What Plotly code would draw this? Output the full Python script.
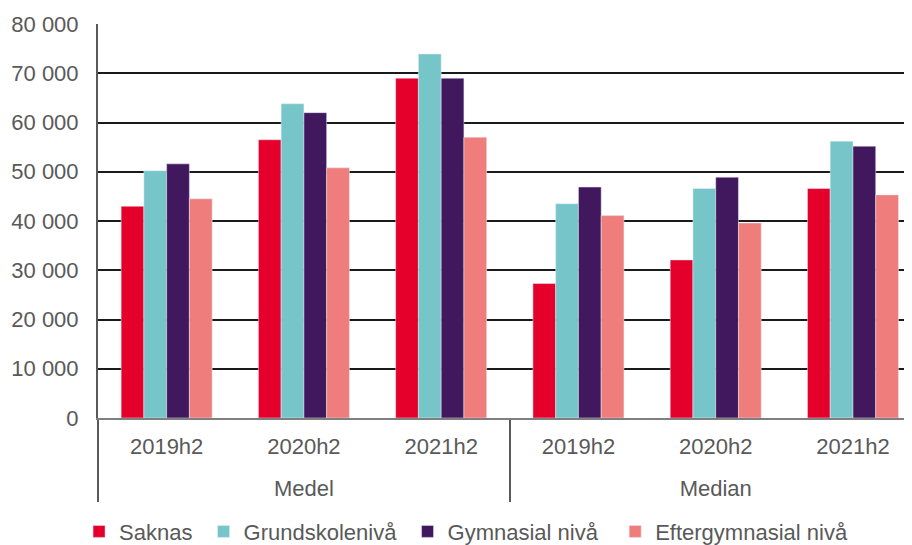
import plotly.graph_objects as go

# x-axis: two levels
measures = ["Medel"] * 3 + ["Median"] * 3
periods = ["2019h2", "2020h2", "2021h2"] * 2

saknas = [43000, 56500, 69000, 27300, 32100, 46600]
grundskola = [50200, 63800, 73900, 43500, 46600, 56200]
gymnasial = [51600, 62000, 69000, 46900, 48900, 55200]
eftergymnasial = [44500, 50800, 57000, 41100, 39600, 45300]

series = [
    ("Saknas", saknas, "#E4002B", 1),
    ("Grundskolenivå", grundskola, "#76C5C8", 1),
    ("Gymnasial nivå", gymnasial, "#41185E", 2),
    ("Eftergymnasial nivå", eftergymnasial, "#EF7D7C", 0),
]

# labels drawn at 22px inside a slightly smaller base font, so the blank line
# before the outer level is a bit shorter
big = "<span style='font-size:22px'>{}</span>"
outer = ["<br>" + big.format(m) for m in measures]
inner = [big.format(p) for p in periods]

fig = go.Figure()
for name, vals, color, pad in series:
    fig.add_trace(go.Bar(
        x=[outer, inner],
        y=vals,
        name=name + "\u00a0" * pad,
        marker=dict(color=color),
    ))

# page body has an 8px margin, so the figure is 8px smaller than the window
fig.update_layout(
    width=904,
    height=537,
    margin=dict(l=90, r=0, t=16, b=126.5),
    paper_bgcolor="white",
    plot_bgcolor="white",
    barmode="group",
    bargap=0.337,
    bargroupgap=0,
    separators=", ",
    font=dict(family="Liberation Sans, Arial, sans-serif", size=22, color="#595959"),
    showlegend=True,
    legend=dict(
        orientation="h",
        xref="container", x=0.0786, xanchor="left",
        yref="container", y=0.025, yanchor="middle",
        font=dict(size=22, color="#595959"),
        traceorder="normal",
    ),
    xaxis=dict(
        type="multicategory",
        range=[-0.5, 5.43],
        automargin=False,
        showline=True,
        linecolor="#7F7F7F",
        linewidth=2,
        ticklabelstandoff=10,
        showdividers=True,
        dividercolor="#595959",
        dividerwidth=2,
        tickfont=dict(size=19.6, color="#595959"),
    ),
    yaxis=dict(
        range=[0, 80000],
        dtick=10000,
        tickformat=",d",
        automargin=False,
        showgrid=True,
        gridcolor="#1A1A1A",
        gridwidth=1.5,
        showline=True,
        linecolor="#595959",
        linewidth=2,
        zeroline=False,
        ticklabelstandoff=13,
        tickfont=dict(size=22, color="#595959"),
    ),
)

fig.write_html("out.html")
